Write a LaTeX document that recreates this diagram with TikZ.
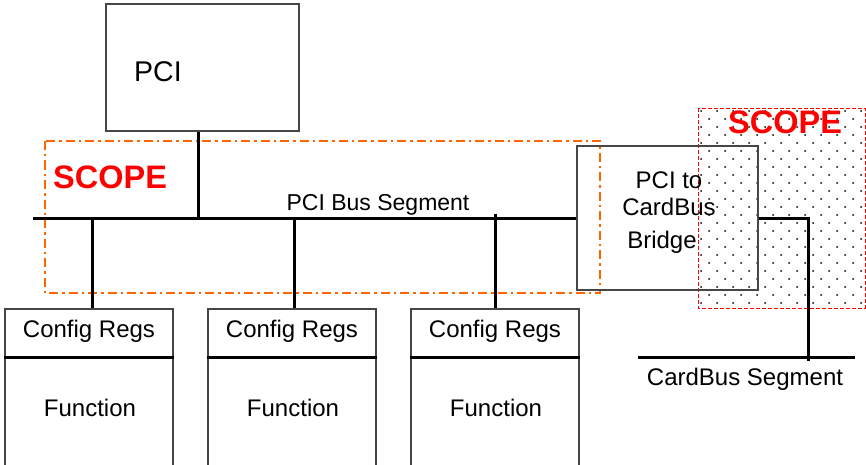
\documentclass[tikz,border=0pt]{standalone}
\usepackage{fontspec}
\setmainfont{Liberation Sans}
\definecolor{scopeorange}{RGB}{255,102,0}
\definecolor{scopered}{RGB}{255,0,0}
\definecolor{boxgray}{RGB}{70,70,70}
\begin{document}
\begin{tikzpicture}[x=1pt,y=-1pt,
  box/.style={draw=boxgray,line width=1.2pt,minimum width=#1,inner sep=0pt},
  bus/.style={line width=3pt,black},
  lbl/.style={font=\fontsize{24}{24}\selectfont,inner sep=0pt,anchor=base},
  scopetxt/.style={font=\fontsize{32.5}{32.5}\selectfont\bfseries,text=scopered,inner sep=0pt,anchor=base west}]
\useasboundingbox (0,0) rectangle (866,465);
% red dotted scope region
\foreach \j in {0,...,24}{
  \pgfmathsetmacro{\yy}{111+8*\j}
  \pgfmathsetmacro{\xs}{701+8*mod(\j,2)}
  \foreach \i in {0,...,10}{
    \pgfmathsetmacro{\xx}{\xs+16*\i}
    \ifdim \xx pt<863pt
      \fill[black] (\xx,\yy) circle[radius=1];
    \fi
  }
}
\draw[scopered,line width=0.9pt,dash pattern=on 4pt off 2pt] (698,108) rectangle (865,308);
% orange scope
\draw[scopeorange,line width=2.2pt,dash pattern=on 9pt off 4pt on 2.5pt off 4pt] (45,141) rectangle (600,293);
% PCI box
\node[box=193pt,minimum height=127pt] (pci) at (202.5,67.5) {};
\node[font=\fontsize{28.5}{28.5}\selectfont,inner sep=0pt,anchor=base west] (pcit) at (134,82) {PCI};
% bridge
\node[box=181pt,minimum height=144pt] (bridge) at (667.5,218) {};
\node[lbl] (b1) at (669,188) {PCI to};
\node[lbl] (b2) at (669,215) {CardBus};
\node[lbl] (b3) at (662,248) {Bridge};
% config boxes
\foreach \n/\x in {1/89,2/292,3/495}{
  \node[box=168pt,minimum height=48pt] (cr\n) at (\x,333) {};
  \node[box=168pt,minimum height=113pt] (fn\n) at (\x,413.5) {};
  \node[lbl] (crt\n) at (\x,337) {Config Regs};
  \node[lbl] (fnt\n) at (\x+1,416) {Function};
  \draw[line width=2.4pt,black] (cr\n.south west) -- (cr\n.south east);
}
% PCI bus
\coordinate (busL) at (33,218);
\draw[bus] (busL) -- (bridge.west);
\node[font=\fontsize{23}{23}\selectfont,inner sep=0pt,anchor=base] (bust) at (378,210) {PCI Bus Segment};
\coordinate (tp) at (198,218);
\draw[bus] (tp |- pci.south) -- (tp);
\coordinate (t1) at (92,218);
\coordinate (t2) at (294,218);
\coordinate (t3) at (495,214);
\draw[bus] (t1) -- (t1 |- cr1.north);
\draw[bus] (t2) -- (t2 |- cr2.north);
\draw[bus] (t3) -- (t3 |- cr3.north);
% cardbus
\coordinate (cbL) at (638,357);
\coordinate (cbR) at (855,357);
\coordinate (cbc) at (808,218);
\draw[bus] (cbL) -- (cbR);
\draw[bus] (bridge.east) -- (cbc) -- (cbc |- 0,361);
\node[lbl] (cbt) at (745,385) {CardBus Segment};
% scope labels
\node[scopetxt] (s1) at (53,188) {SCOPE};
\node[scopetxt] (s2) at (728,134) {SCOPE};
\end{tikzpicture}
\end{document}
